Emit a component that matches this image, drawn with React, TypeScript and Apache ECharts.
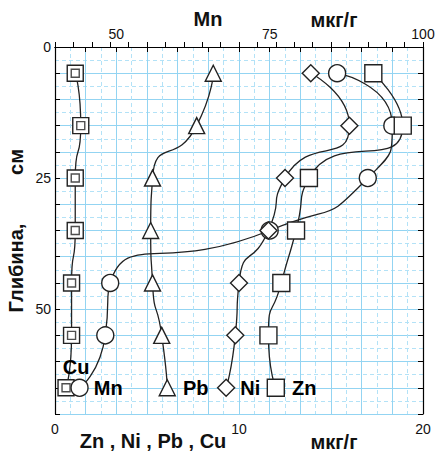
import React, { useEffect, useRef } from "react";
import * as echarts from "echarts";

const depth = [5, 15, 25, 35, 45, 55, 65];
const cu = [1.1, 1.4, 1.1, 1.1, 0.9, 0.9, 0.6];
const mn = [86, 95, 91, 75, 49, 48.2, 44];
const pb = [8.6, 7.7, 5.3, 5.2, 5.3, 5.8, 6.1];
const ni = [13.9, 16.0, 12.5, 11.6, 10.0, 9.8, 9.3];
const zn = [17.3, 18.9, 13.8, 13.1, 12.3, 11.6, 12.0];

const bottomLabels = [0, 10, 20];
const topLabels = [50, 75, 100];
const depthLabels = [0, 25, 50];

const FONT = "Liberation Sans, Arial, sans-serif";
const GRID_SOLID = "#93d4f2";
const GRID_DASH = "#b3e2f7";

function seriesData(vals: number[], label?: any) {
  return vals.map((v, i) =>
    i === vals.length - 1 && label
      ? { value: [v, depth[i]], label: { show: true, ...label } }
      : [v, depth[i]]
  );
}

const labelStyle = {
  fontFamily: FONT,
  fontWeight: "bold",
  fontSize: 20,
  color: "#000",
};

export default function App() {
  const ref = useRef<HTMLDivElement>(null);
  useEffect(() => {
    if (!ref.current) return;
    const chart = echarts.init(ref.current, null, { renderer: "svg" });
    const lineSeries = (
      name: string,
      vals: number[],
      symbol: string,
      size: number,
      xAxisIndex: number,
      label?: any
    ) => ({
      type: "line",
      name,
      xAxisIndex,
      yAxisIndex: 0,
      data: seriesData(vals, label),
      smooth: 0.7,
      symbol,
      symbolSize: size,
      showAllSymbol: true,
      lineStyle: { color: "#222", width: 1.3 },
      itemStyle: { color: "#fff", borderColor: "#222", borderWidth: 1.4 },
      label: { show: false },
      z: 3,
    });
    const bigText = (text: string, x: number, y: number, rot = 0) => ({
      type: "text",
      x,
      y,
      rotation: rot,
      style: {
        text,
        font: `bold 20px ${FONT}`,
        fill: "#111",
        align: "center",
        verticalAlign: "middle",
      },
    });
    chart.setOption({
      animation: false,
      grid: { left: 55, right: 16, top: 47, bottom: 42 },
      xAxis: [
        {
          type: "value",
          position: "bottom",
          min: 0,
          max: 20,
          interval: 1,
          axisLine: { show: true, lineStyle: { color: "#000", width: 1.2 } },
          axisTick: { show: true, inside: true, length: 5, lineStyle: { color: "#000" } },
          axisLabel: {
            margin: 8,
            fontFamily: FONT,
            fontSize: 14,
            color: "#111",
            formatter: (v: number) => (bottomLabels.includes(v) ? String(v) : ""),
          },
          splitLine: { show: false },
        },
        {
          type: "value",
          position: "top",
          min: 40,
          max: 100,
          interval: 5,
          axisLine: { show: true, lineStyle: { color: "#000", width: 1.2 } },
          axisTick: { show: true, inside: true, length: 5, lineStyle: { color: "#000" } },
          axisLabel: {
            margin: 6,
            fontFamily: FONT,
            fontSize: 14,
            color: "#111",
            formatter: (v: number) => (topLabels.includes(v) ? String(v) : ""),
          },
          splitLine: { show: true, lineStyle: { color: GRID_SOLID, width: 1 } },
          minorTick: { show: true, splitNumber: 2, length: 0 },
          minorSplitLine: { show: true, lineStyle: { color: GRID_DASH, type: [4, 3], width: 1 } },
        },
      ],
      yAxis: [
        {
          type: "value",
          inverse: true,
          min: 0,
          max: 70,
          interval: 5,
          position: "left",
          axisLine: { show: true, lineStyle: { color: "#000", width: 1.2 } },
          axisTick: { show: true, inside: true, length: 5, lineStyle: { color: "#000" } },
          axisLabel: {
            margin: 4,
            fontFamily: FONT,
            fontSize: 14,
            color: "#111",
            formatter: (v: number) => (depthLabels.includes(v) ? String(v) : ""),
          },
          splitLine: { show: true, lineStyle: { color: GRID_SOLID, width: 1 } },
          minorTick: { show: true, splitNumber: 2, length: 0 },
          minorSplitLine: { show: true, lineStyle: { color: GRID_DASH, type: [4, 3], width: 1 } },
        },
        {
          type: "value",
          inverse: true,
          min: 0,
          max: 70,
          interval: 5,
          position: "right",
          axisLine: { show: true, lineStyle: { color: "#000", width: 1.2 } },
          axisTick: { show: true, inside: true, length: 5, lineStyle: { color: "#000" } },
          axisLabel: { show: false },
          splitLine: { show: false },
        },
      ],
      series: [
        lineSeries("Cu", cu, "rect", 16, 0, {
          position: "top",
          distance: 2,
          offset: [10, 0],
          formatter: "Cu",
          ...labelStyle,
        }),
        {
          type: "scatter",
          name: "Cu-inner",
          xAxisIndex: 0,
          yAxisIndex: 0,
          data: seriesData(cu),
          symbol: "rect",
          symbolSize: 8,
          itemStyle: { color: "#fff", borderColor: "#222", borderWidth: 1.4 },
          z: 4,
        },
        lineSeries("Mn", mn, "circle", 17, 1, {
          position: "right",
          distance: 5,
          formatter: "Mn",
          ...labelStyle,
        }),
        lineSeries("Pb", pb, "triangle", 16, 0, {
          position: "right",
          distance: 7,
          formatter: "Pb",
          ...labelStyle,
        }),
        lineSeries("Ni", ni, "diamond", 17, 0, {
          position: "right",
          distance: 5,
          formatter: "Ni",
          ...labelStyle,
        }),
        lineSeries("Zn", zn, "rect", 17, 0, {
          position: "right",
          distance: 7,
          formatter: "Zn",
          ...labelStyle,
        }),
      ],
      graphic: [
        bigText("Mn", 208, 19),
        bigText("мкг/г", 334, 20),
        bigText("Zn , Ni , Pb , Cu", 153, 441),
        bigText("мкг/г", 334, 442),
        bigText("см", 16, 162, Math.PI / 2),
        bigText("Глибина,", 16, 268, Math.PI / 2),
      ],
    });
    return () => chart.dispose();
  }, []);
  return <div ref={ref} style={{ width: 439, height: 456, position: "absolute", left: 0, top: 0 }} />;
}
